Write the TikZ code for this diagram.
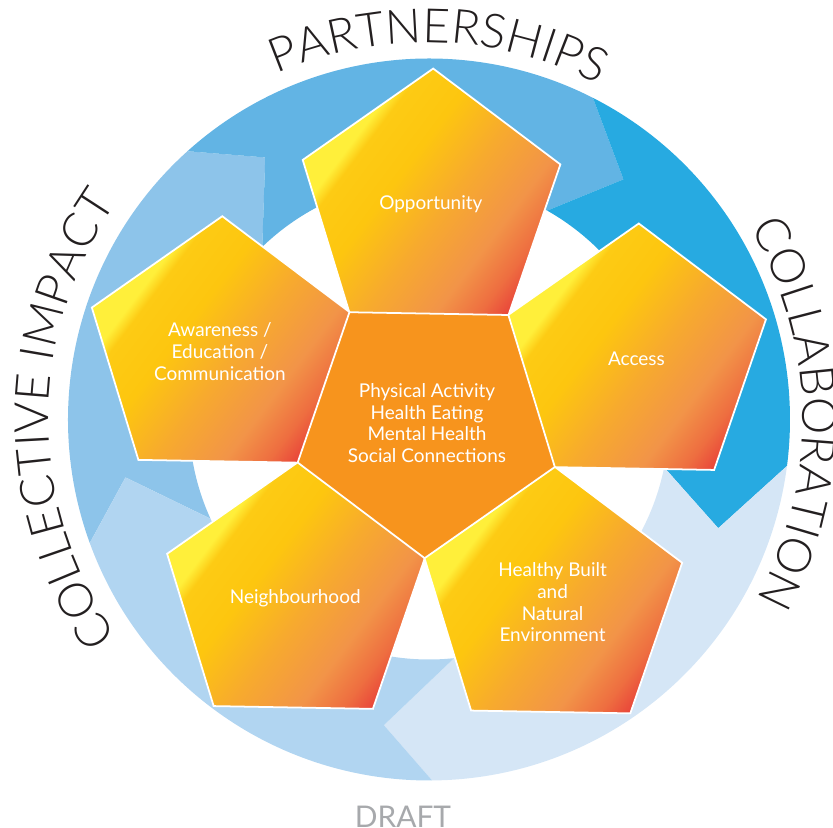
\documentclass[tikz,border=0pt]{standalone}
\usepackage{fontspec}
\setmainfont{Lato}
\newfontfamily\ringfont{Lato Light}
\usetikzlibrary{shapes.geometric,decorations.text,calc}

\definecolor{ringleft}{HTML}{8DC4EA}
\definecolor{ringtop}{HTML}{62B4E4}
\definecolor{ringright}{HTML}{27AAE1}
\definecolor{ringlow}{HTML}{D5E6F6}
\definecolor{ringbase}{HTML}{B1D5F1}
\definecolor{coreorange}{HTML}{F7941D}
\definecolor{petalyellow}{HTML}{FFEF3A}
\definecolor{petalgold}{HTML}{FDCB14}
\definecolor{petalgoldb}{HTML}{FDC60F}
\definecolor{petalorange}{HTML}{F7AA2E}
\definecolor{petaldark}{HTML}{F29448}
\definecolor{petalredb}{HTML}{EE6E40}
\definecolor{petalred}{HTML}{E9473A}
\definecolor{ringtext}{HTML}{231F20}
\definecolor{draftgrey}{HTML}{A7A9AC}

\pgfdeclarehorizontalshading{petalshade}{100bp}{color(0bp)=(petalyellow); color(31.5bp)=(petalyellow); color(34bp)=(petalgold); color(43bp)=(petalgoldb); color(54bp)=(petalorange); color(65bp)=(petaldark); color(72bp)=(petalredb); color(76.5bp)=(petalred); color(100bp)=(petalred)}

\tikzset{
  pentagon/.style={regular polygon, regular polygon sides=5, minimum size=5.42cm, inner sep=0pt,
    draw=white, line width=1pt, text=white, align=center, font=\fontsize{10.8}{12.3}\selectfont},
  petal/.style={pentagon, shape border rotate=-1, shading=petalshade, shading angle=-37},
  core/.style={pentagon, shape border rotate=179, fill=coreorange},
  ringword/.style={decorate, decoration={text along path, text align=center, text color=ringtext,
    text={|\ringfont\fontsize{27}{30}\selectfont|#1}}}
}

\begin{document}
\begin{tikzpicture}[x=0.02cm, y=0.02cm]
    \useasboundingbox (0,0) rectangle (833,828);

    \begin{scope}[shift={(429,408.5)}]
        \foreach \tailo/\taili/\tailt/\heado/\headi/\headt/\col in {
            200/204.4/190.8/132/134/122/ringleft,
            132/134/122/63/60.5/51/ringtop,
            63/60.5/51/-7.4/-11.5/-20.6/ringright,
            -7.4/-11.5/-20.6/-89.5/-84/-98.4/ringlow,
            270.5/276/261.6/200/204.4/190.8/ringbase}
            \fill[\col] (\tailo:361) arc[start angle=\tailo, end angle=\heado, radius=361]
                -- (\headt:309) -- (\headi:240) arc[start angle=\headi, end angle=\taili, radius=240]
                -- (\tailt:309) -- cycle;
    \end{scope}

    \path[ringword={PARTNERSHIPS}] (425.5,408.5) ++(148:377) arc[start angle=148, end angle=28, radius=377];
    \path[ringword={COLLABORATION}] (425.5,408.5) ++(61:377) arc[start angle=61, end angle=-59, radius=377];
    \path[ringword={COLLECTIVE IMPACT}] (425.5,408.5) ++(240:377) arc[start angle=240, end angle=120, radius=377];

    \node[core] (core) at (427,405) {Physical Activity\\Health Eating\\Mental Health\\Social Connections};
    \node[petal] (opportunity) at ($(core)+(89:219)$) {Opportunity};
    \node[petal] (access) at ($(core)+(17:219)$) {Access};
    \node[petal] (awareness) at ($(core)+(161:219)$) {Awareness /\\Education /\\Communication};
    \node[petal] (neighbourhood) at ($(core)+(233:219)$) {Neighbourhood};
    \node[petal] (healthy) at ($(core)+(-55:219)$) {Healthy Built\\and\\Natural\\Environment};

    \node[anchor=base, text=draftgrey, font=\fontsize{17}{17}\selectfont] (draft) at (403,0) {DRAFT};
\end{tikzpicture}
\end{document}
